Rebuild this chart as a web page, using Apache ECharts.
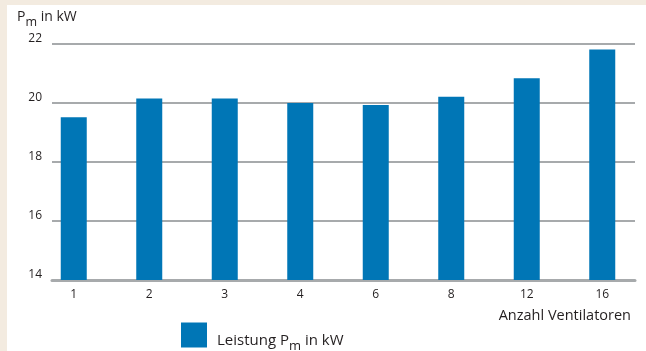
<!DOCTYPE html>
<html>
<head>
<meta charset="utf-8">
<script src="https://cdn.jsdelivr.net/npm/echarts@6/dist/echarts.min.js"></script>
<style>
  html, body { margin: 0; padding: 0; background: #f3ebe0; }
  #chart { position: absolute; left: 7px; top: 5px; width: 639px; height: 346px; background: #fff; }
</style>
</head>
<body>
<div id="chart"></div>
<script>
// Anzahl Ventilatoren
var categories = ['1', '2', '3', '4', '6', '8', '12', '16'];
// Leistung Pm in kW
var power = [19.52, 20.15, 20.15, 20.0, 19.93, 20.21, 20.84, 21.81];
var yMin = 14, yMax = 22, yStep = 2;

var font = '"Open Sans", sans-serif';
var ink = '#231f20';
var blue = '#0076b6';
var grey = '#a7aaac';

var myChart = echarts.init(document.getElementById('chart'));
myChart.setOption({
  animation: false,
  textStyle: { fontFamily: font, color: ink },
  title: {
    text: '{b|P}{s|m}{b| in kW}',
    left: 10, top: 5, padding: 0,
    textStyle: { rich: {
      b: { fontFamily: font, fontSize: 14, fontWeight: 'normal', color: ink, lineHeight: 15 },
      s: { fontFamily: font, fontSize: 12.5, fontWeight: 'normal', color: ink, lineHeight: 12, padding: [10, 0, 0, 0] }
    } }
  },
  legend: {
    left: 174, top: 312, padding: 0,
    itemWidth: 26, itemHeight: 25,
    icon: 'rect',
    data: ['Leistung Pm in kW'],
    formatter: function () { return '{a|Leistung P}{s|m}{b| in kW}'; },
    textStyle: { rich: {
      a: { fontFamily: font, fontSize: 15, color: ink, lineHeight: 16, padding: [12, 0, 0, 5] },
      b: { fontFamily: font, fontSize: 15, color: ink, lineHeight: 16, padding: [12, 0, 0, 0] },
      s: { fontFamily: font, fontSize: 13, color: ink, lineHeight: 13, padding: [23, 0, 0, 0] }
    } }
  },
  graphic: [{
    type: 'text', right: 15, top: 303,
    style: { text: 'Anzahl Ventilatoren', font: '14.5px ' + font, fill: ink }
  }],
  grid: [
    { left: 45, right: 11, top: 39, bottom: 71 },
    { left: 29, right: 6, top: 39, bottom: 71 }
  ],
  xAxis: [
    {
      gridIndex: 0, type: 'category', data: categories,
      axisLine: { show: true, lineStyle: { color: grey, width: 3 } },
      axisTick: { show: false }, axisLabel: { show: false }
    },
    {
      gridIndex: 1, type: 'category', data: categories,
      axisLine: { show: false }, axisTick: { show: false },
      axisLabel: { margin: 9, fontSize: 12, color: ink, fontFamily: font }
    }
  ],
  yAxis: [
    {
      gridIndex: 0, type: 'value', min: yMin, max: yMax, interval: yStep,
      axisLine: { show: false }, axisTick: { show: false },
      axisLabel: { margin: 10, fontSize: 12, color: ink, fontFamily: font, verticalAlign: 'bottom', lineHeight: 10 },
      splitLine: { lineStyle: { color: grey, width: 2 } }
    },
    {
      gridIndex: 1, type: 'value', min: yMin, max: yMax, interval: yStep,
      show: false
    }
  ],
  series: [{
    name: 'Leistung Pm in kW',
    type: 'bar',
    xAxisIndex: 1, yAxisIndex: 1,
    data: power,
    barWidth: 26,
    itemStyle: { color: blue }
  }]
});
</script>
</body>
</html>
